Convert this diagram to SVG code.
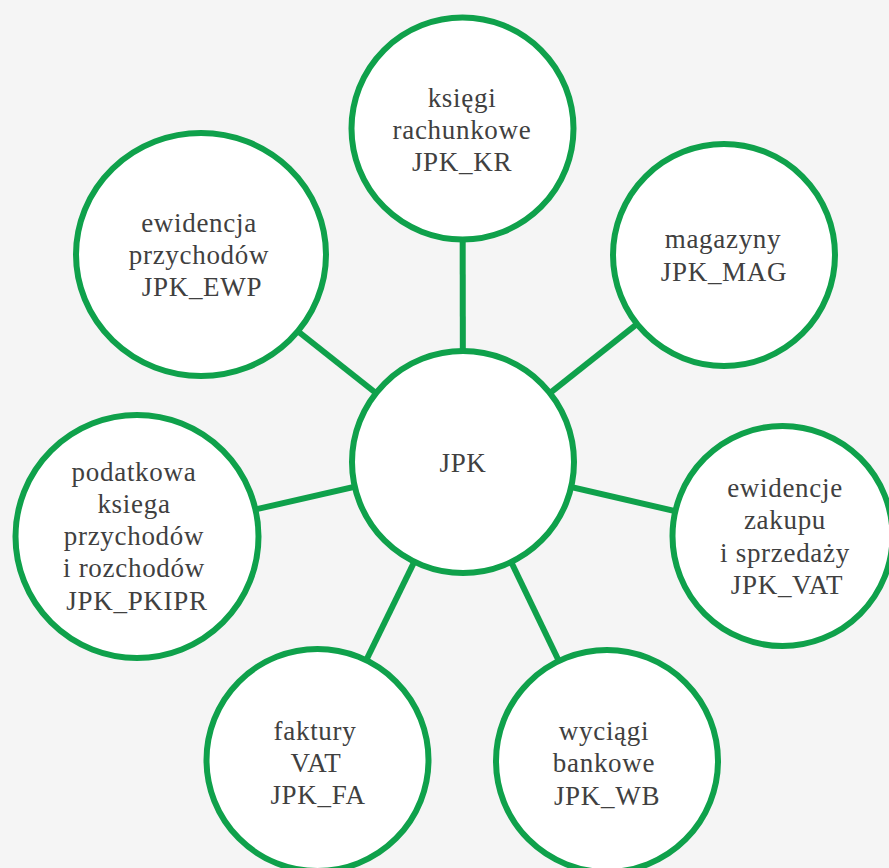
<svg xmlns="http://www.w3.org/2000/svg" width="889" height="868" viewBox="0 0 889 868">
<style>
.bg{fill:#f5f5f5}
.node{fill:#ffffff;stroke:#0fa14b;stroke-width:6}
.edge{stroke:#0fa14b;stroke-width:6;fill:none}
.t{font-family:'Liberation Serif','Times New Roman',serif;font-size:27px;fill:#404040;text-anchor:middle;letter-spacing:0.7px}
</style>
<rect class="bg" x="0" y="0" width="889" height="868"/>
<g id="connectors">
<line class="edge" x1="463" y1="462" x2="462.5" y2="128.5"/>
<line class="edge" x1="463" y1="462" x2="724" y2="255"/>
<line class="edge" x1="463" y1="462" x2="201" y2="254.5"/>
<line class="edge" x1="463" y1="462" x2="137" y2="536.5"/>
<line class="edge" x1="463" y1="462" x2="782.5" y2="536"/>
<line class="edge" x1="463" y1="462" x2="317.5" y2="760"/>
<line class="edge" x1="463" y1="462" x2="607" y2="761"/>
</g>
<g id="node-jpk">
<circle class="node" cx="463" cy="462" r="111"/>
<text class="t" x="463" y="472">JPK</text>
</g>
<g id="node-kr">
<circle class="node" cx="462.5" cy="128.5" r="111"/>
<text class="t" x="462" y="107">księgi</text>
<text class="t" x="462" y="139">rachunkowe</text>
<text class="t" x="462" y="171">JPK_KR</text>
</g>
<g id="node-mag">
<circle class="node" cx="724" cy="255" r="111"/>
<text class="t" x="723" y="248">magazyny</text>
<text class="t" x="724" y="281">JPK_MAG</text>
</g>
<g id="node-ewp">
<ellipse class="node" cx="201" cy="254.5" rx="125" ry="121.5"/>
<text class="t" x="199" y="232">ewidencja</text>
<text class="t" x="199" y="264">przychodów</text>
<text class="t" x="202" y="296">JPK_EWP</text>
</g>
<g id="node-pkipr">
<circle class="node" cx="137" cy="536.5" r="121.5"/>
<text class="t" x="134" y="481">podatkowa</text>
<text class="t" x="134" y="513">ksiega</text>
<text class="t" x="134" y="545">przychodów</text>
<text class="t" x="134" y="577">i rozchodów</text>
<text class="t" x="137" y="610">JPK_PKIPR</text>
</g>
<g id="node-vat">
<circle class="node" cx="782.5" cy="536" r="110"/>
<text class="t" x="785" y="497">ewidencje</text>
<text class="t" x="785" y="529">zakupu</text>
<text class="t" x="785" y="562">i sprzedaży</text>
<text class="t" x="787" y="594">JPK_VAT</text>
</g>
<g id="node-fa">
<circle class="node" cx="317.5" cy="760" r="111"/>
<text class="t" x="315" y="740">faktury</text>
<text class="t" x="316" y="772">VAT</text>
<text class="t" x="318" y="804">JPK_FA</text>
</g>
<g id="node-wb">
<circle class="node" cx="607" cy="761" r="111"/>
<text class="t" x="604" y="740">wyciągi</text>
<text class="t" x="604" y="772">bankowe</text>
<text class="t" x="607" y="805">JPK_WB</text>
</g>
</svg>
